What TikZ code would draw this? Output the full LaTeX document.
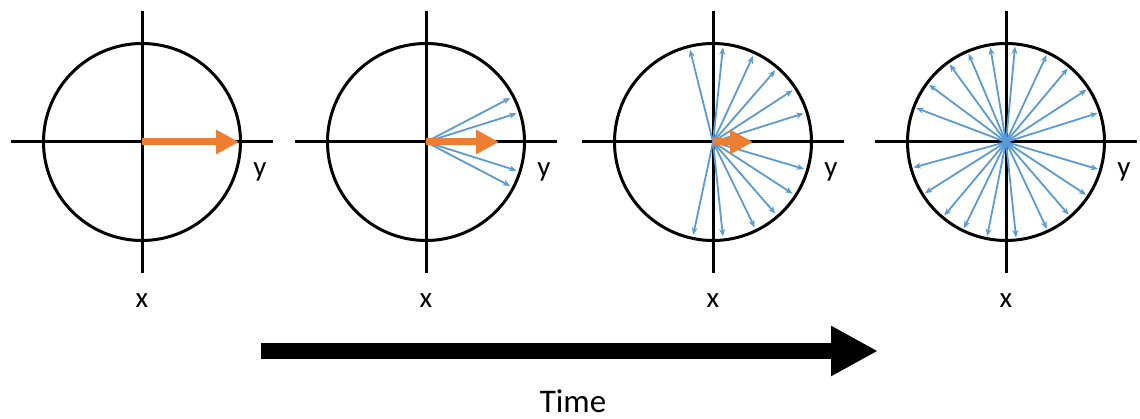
\documentclass[tikz,border=0pt]{standalone}
\usepackage{fontspec}
\setmainfont{Carlito}
\usetikzlibrary{arrows.meta,calc}
\definecolor{ablue}{RGB}{91,155,213}
\definecolor{aorange}{RGB}{237,125,49}
\tikzset{
  axisline/.style={line width=3pt, black},
  unitcircle/.style={line width=3pt, black},
  spin/.style={line width=1.8pt, ablue, -{Stealth[length=7.5pt,width=6pt]}},
  net/.style={line width=7pt, aorange, -{Triangle[length=23pt,width=23pt]}},
  lbl/.style={font=\fontsize{29}{32}\selectfont, anchor=base, inner sep=0pt},
  timearrow/.style={line width=16pt, black, -{Triangle[length=47pt,width=47pt]}},
}
\begin{document}
\begin{tikzpicture}[x=1pt,y=1pt]
\useasboundingbox (0,0) rectangle (1140,419);
\foreach \n/\cx in {1/142,2/426,3/713,4/1006}{
  \coordinate (c\n) at (\cx,277);
  \draw[axisline] ($(c\n)+(-131,0)$) -- ($(c\n)+(131,0)$);
  \draw[axisline] ($(c\n)+(0,-131)$) -- ($(c\n)+(0,131)$);
  \draw[unitcircle] (c\n) circle (98.5);
  \node[lbl] (y\n) at ($(c\n)+(118,-35)$) {y};
  \node[lbl] (x\n) at ($(c\n)+(0,-166)$) {x};
}
% panel 1
\coordinate (e1) at ($(c1)+(97,0)$);
\draw[net] (c1) -- (e1);
% panel 2
\foreach \a in {27.6,17.5,-17.5,-27.6}{
  \draw[spin] (c2) -- ($(c2)+(\a:95)$);
}
\coordinate (e2) at ($(c2)+(73,0)$);
\draw[net] (c2) -- (e2);
% panel 3
\foreach \a in {104,84,65,49,33,17.5,-16.5,-33,-49,-64,-84,-102}{
  \draw[spin] (c3) -- ($(c3)+(\a:95)$);
}
\coordinate (e3) at ($(c3)+(40,0)$);
\draw[net] (c3) -- (e3);
% panel 4
\foreach \a in {84.6,65,50,33,17.5,-16.5,-33.4,-49.3,-64.8,-84,-101.3,-116,-130,-147.7,-164.6,159.3,143.4,126,113,99.4}{
  \draw[spin] (c4) -- ($(c4)+(\a:96)$);
}
% time arrow
\coordinate (ts) at (261,68);
\coordinate (te) at (878,68);
\draw[timearrow] (ts) -- (te);
\node[font=\fontsize{33}{36}\selectfont, anchor=base, inner sep=0pt] (time) at (573,6) {Time};
\end{tikzpicture}
\end{document}
